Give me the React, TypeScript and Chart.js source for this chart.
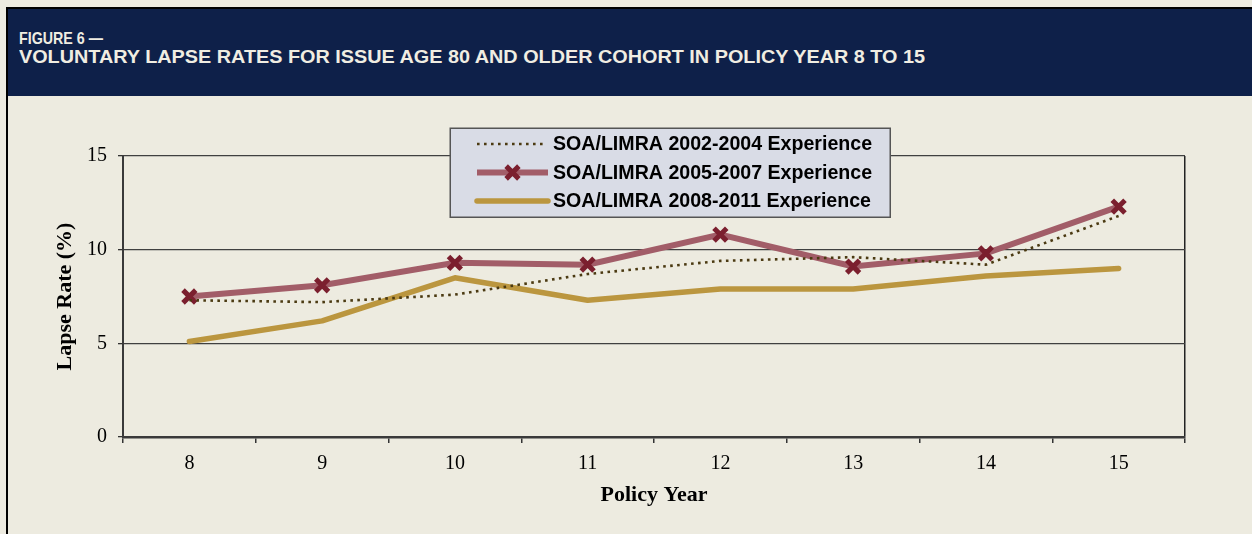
import React, { useEffect, useRef } from "react";
import { Chart, registerables } from "chart.js";

Chart.register(...registerables);

const policyYears = ["8", "9", "10", "11", "12", "13", "14", "15"];
const exp2002to2004 = [7.3, 7.2, 7.6, 8.7, 9.4, 9.6, 9.2, 11.8];
const exp2005to2007 = [7.5, 8.1, 9.3, 9.2, 10.8, 9.1, 9.8, 12.3];
const exp2008to2011 = [5.1, 6.2, 8.5, 7.3, 7.9, 7.9, 8.6, 9.0];
const seriesNames = [
  "SOA/LIMRA 2002-2004 Experience",
  "SOA/LIMRA 2005-2007 Experience",
  "SOA/LIMRA 2008-2011 Experience",
];
const yMin = 0;
const yMax = 15;
const yStep = 5;

const SERIF = "'Liberation Serif', 'Times New Roman', serif";
const SANS = "'Liberation Sans', Arial, sans-serif";

const boxLegend = {
  id: "boxLegend",
  afterDraw(chart: any) {
    const ctx = chart.ctx as CanvasRenderingContext2D;
    const x0 = 442;
    const y0 = 32;
    const w = 440;
    const h = 89;
    ctx.save();
    ctx.fillStyle = "#d9dce6";
    ctx.fillRect(x0, y0, w, h);
    ctx.strokeStyle = "#555555";
    ctx.lineWidth = 1.5;
    ctx.strokeRect(x0 + 0.25, y0 + 0.25, w, h);
    const rowY = [48, 76.5, 105];
    const lx0 = 469;
    const lx1 = 540;
    chart.data.datasets.forEach((ds: any, i: number) => {
      const y = rowY[i];
      ctx.save();
      ctx.strokeStyle = ds.borderColor;
      ctx.lineWidth = ds.borderWidth;
      ctx.setLineDash(ds.borderDash || []);
      ctx.lineCap = ds.borderCapStyle || "butt";
      ctx.beginPath();
      ctx.moveTo(lx0, y);
      ctx.lineTo(ds.borderDash ? lx1 - 4 : lx1, y);
      ctx.stroke();
      ctx.restore();
      if (ds.pointRadius > 0) {
        const cx = (lx0 + lx1) / 2;
        const r = ds.pointRadius * Math.SQRT1_2;
        ctx.save();
        ctx.strokeStyle = ds.pointBorderColor;
        ctx.lineWidth = ds.pointBorderWidth;
        ctx.beginPath();
        ctx.moveTo(cx - r, y - r);
        ctx.lineTo(cx + r, y + r);
        ctx.moveTo(cx + r, y - r);
        ctx.lineTo(cx - r, y + r);
        ctx.stroke();
        ctx.restore();
      }
      ctx.fillStyle = "#000000";
      ctx.font = `bold 19.6px ${SANS}`;
      ctx.textAlign = "left";
      ctx.textBaseline = "middle";
      ctx.fillText(ds.label, 545, y + 1);
    });
    ctx.restore();
  },
};

export default function App() {
  const canvasRef = useRef<HTMLCanvasElement>(null);
  const titleRef = useRef<HTMLSpanElement>(null);
  const figRef = useRef<HTMLSpanElement>(null);

  useEffect(() => {
    const fits: Array<[any, number]> = [
      [titleRef, 906],
      [figRef, 84],
    ];
    fits.forEach(([r, target]) => {
      const el = r.current as HTMLSpanElement | null;
      if (el) {
        el.style.transform = "none";
        const wd = el.getBoundingClientRect().width;
        if (wd > 0) el.style.transform = `scaleX(${target / wd})`;
      }
    });

    const chart = new Chart(canvasRef.current as HTMLCanvasElement, {
      type: "line",
      data: {
        labels: policyYears,
        datasets: [
          {
            label: seriesNames[0],
            data: exp2002to2004,
            borderColor: "#4b3a12",
            borderWidth: 2.6,
            borderDash: [2.6, 4.4],
            pointRadius: 0,
            tension: 0,
            fill: false,
            order: 0,
          },
          {
            label: seriesNames[1],
            data: exp2005to2007,
            borderColor: "#a25d68",
            borderWidth: 6,
            pointStyle: "crossRot",
            pointRadius: 9,
            pointBorderWidth: 5,
            pointBorderColor: "#7b1f2e",
            pointBackgroundColor: "#7b1f2e",
            tension: 0,
            fill: false,
            order: 1,
          },
          {
            label: seriesNames[2],
            data: exp2008to2011,
            borderColor: "#bb963f",
            borderWidth: 5.5,
            borderCapStyle: "round",
            borderJoinStyle: "round",
            pointRadius: 0,
            tension: 0,
            fill: false,
            order: 2,
          },
        ] as any,
      },
      options: {
        responsive: false,
        animation: false,
        devicePixelRatio: 1,
        layout: { padding: { left: 0, top: 60, right: 67, bottom: 0 } },
        plugins: {
          legend: { display: false },
          tooltip: { enabled: false },
        },
        scales: {
          x: {
            type: "category",
            offset: true,
            grid: {
              offset: true,
              drawOnChartArea: true,
              color: (c: any) => (c.type === "tick" ? "rgba(0,0,0,0)" : "#222222"),
              tickColor: "#333333",
              tickLength: 6,
              lineWidth: 1.5,
            },
            border: { color: "#3a3a3a", width: 2.5 },
            ticks: {
              color: "#000000",
              font: { family: SERIF, size: 20 },
              padding: 9,
              maxRotation: 0,
              autoSkip: false,
            },
            title: {
              display: true,
              text: "Policy Year",
              color: "#000000",
              font: { family: SERIF, size: 22, weight: "bold" },
              padding: { top: 0, bottom: 25 },
            },
            afterFit: (s: any) => {
              s.height = 97;
            },
          },
          y: {
            min: yMin,
            max: yMax,
            ticks: {
              stepSize: yStep,
              color: "#000000",
              font: { family: SERIF, size: 20 },
              padding: 11,
            },
            grid: {
              color: "#404040",
              lineWidth: 1.3,
              tickLength: 5,
              tickColor: "#333333",
            },
            border: { color: "#3a3a3a", width: 2 },
            title: {
              display: true,
              text: "Lapse Rate (%)",
              color: "#000000",
              font: { family: SERIF, size: 22, weight: "bold" },
              padding: { top: 44, bottom: 0 },
            },
            afterFit: (s: any) => {
              s.width = 115;
            },
          },
        },
      } as any,
      plugins: [boxLegend],
    });
    return () => chart.destroy();
  }, []);

  return (
    <div
      style={{
        position: "absolute",
        left: 0,
        top: 0,
        width: 1252,
        height: 534,
        background: "#edebe0",
        overflow: "hidden",
      }}
    >
      <div style={{ position: "absolute", left: 6, top: 7, width: 1246, height: 2, background: "#000" }} />
      <div style={{ position: "absolute", left: 6, top: 7, width: 2, height: 527, background: "#000" }} />
      <div
        style={{
          position: "absolute",
          left: 8,
          top: 9,
          width: 1244,
          height: 87,
          background: "#0e2049",
        }}
      />
      <span
        ref={figRef}
        style={{
          position: "absolute",
          left: 19,
          top: 30,
          fontFamily: SANS,
          fontWeight: "bold",
          fontSize: 17,
          lineHeight: "17px",
          color: "#f0ede2",
          whiteSpace: "nowrap",
          display: "inline-block",
          transformOrigin: "0 0",
        }}
      >
        FIGURE 6 —
      </span>
      <span
        ref={titleRef}
        style={{
          position: "absolute",
          left: 19,
          top: 48,
          fontFamily: SANS,
          fontWeight: "bold",
          fontSize: 18.5,
          lineHeight: "18.5px",
          color: "#f0ede2",
          whiteSpace: "nowrap",
          transformOrigin: "0 0",
          display: "inline-block",
        }}
      >
        VOLUNTARY LAPSE RATES FOR ISSUE AGE 80 AND OLDER COHORT IN POLICY YEAR 8 TO 15
      </span>
      <canvas
        ref={canvasRef}
        width={1244}
        height={438}
        style={{ position: "absolute", left: 8, top: 96, width: 1244, height: 438 }}
      />
    </div>
  );
}
